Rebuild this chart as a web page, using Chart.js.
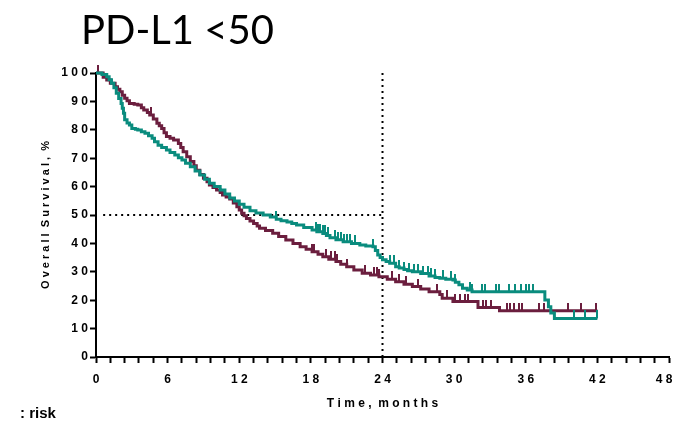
<!DOCTYPE html>
<html><head><meta charset="utf-8">
<script src="https://cdn.jsdelivr.net/npm/chart.js@4"></script>
<style>
html,body{margin:0;padding:0;background:#fff;}
#wrap{position:relative;width:675px;height:422px;overflow:hidden;}
canvas{position:absolute;left:0;top:0;}
#title{position:absolute;left:81px;top:9px;font-family:Lato,'Open Sans',sans-serif;font-size:40px;line-height:40px;color:#000;white-space:pre;}
#risk{position:absolute;left:20px;top:405px;font-family:'Liberation Sans',Arial,sans-serif;font-weight:bold;font-size:15px;line-height:15px;color:#000;}
</style></head><body>
<div id="wrap"><canvas id="c" width="675" height="422"></canvas><div id="title">PD-L1 &lt;50</div><div id="risk">: risk</div></div>
<script>
// ---- data ----
const tealTimes = [0,0.5,0.9,1.1,1.3,1.5,1.7,1.9,2.1,2.2,2.3,2.4,2.6,2.8,3.0,3.3,3.5,3.8,4.1,4.4,4.7,4.9,5.2,5.5,5.9,6.2,6.6,6.9,7.2,7.5,7.9,8.3,8.7,9.1,9.5,9.9,10.4,10.8,11.2,11.6,12.0,12.4,12.9,13.4,14.0,14.6,15.1,15.5,16.0,16.4,16.8,17.4,18.1,18.5,19.0,19.3,19.6,20.1,20.7,21.4,22.1,22.6,23.2,23.4,23.6,23.8,24.0,24.3,24.6,25.1,25.4,25.8,26.1,26.5,27.2,27.9,28.4,28.8,29.3,29.9,30.1,30.4,30.7,31.1,31.5,37.6,37.9,38.1,38.4,42.0];
const tealSurv  = [100,99.5,98.7,97.6,96.4,94.8,92.9,91.0,89.3,87.6,85.8,83.5,82.4,81.7,80.5,80.2,79.9,79.3,78.8,77.9,77.0,75.8,74.6,73.8,72.9,72.0,71.1,70.2,69.4,68.2,67.0,65.5,64.1,62.6,61.2,60.0,58.8,57.4,56.0,54.9,53.8,52.7,51.5,50.7,50.0,49.3,48.5,48.0,47.5,47.0,46.5,45.6,44.7,44.1,43.5,42.8,42.0,41.3,40.6,40.0,39.4,39.1,38.8,37.5,35.9,35.0,34.2,33.6,33.0,31.8,31.3,30.8,30.4,30.0,29.4,28.5,28.0,27.7,27.4,27.1,26.3,25.4,24.2,23.6,23.0,20.1,17.7,15.5,13.6,13.6];
const tealCensor = [15.1,18.4,18.6,18.8,19.0,19.2,19.4,20.0,20.3,20.5,20.8,21.0,21.3,21.7,23.2,24.6,25.0,25.4,25.8,26.2,26.6,27.0,27.4,27.8,28.1,28.4,29.1,29.7,30.1,31.3,31.5,32.3,32.6,33.5,33.8,34.6,35.1,35.6,36.0,36.3,36.6,40.0,41.0,42.0];

const maroonTimes = [0,0.6,0.9,1.2,1.6,1.8,2.0,2.2,2.4,2.6,2.8,3.2,3.5,3.8,4.0,4.3,4.5,4.8,5.1,5.3,5.5,5.7,5.9,6.2,6.5,6.9,7.1,7.3,7.6,7.9,8.2,8.4,8.7,9.0,9.3,9.5,9.8,10.1,10.4,10.6,10.9,11.2,11.5,11.8,12.0,12.2,12.4,12.6,12.9,13.2,13.5,13.7,14.2,14.8,15.3,15.9,16.5,17.1,17.6,18.1,18.6,19.0,19.5,20.1,20.5,21.0,21.6,22.3,23.0,23.7,24.4,25.1,25.8,26.5,27.2,27.9,28.8,29.0,29.9,32.0,33.8,42.0];
const maroonSurv  = [100,98.5,97.5,96.4,95.2,94.3,93.4,92.2,91.1,90.2,89.3,89.0,88.7,87.8,87.0,86.1,85.2,83.8,82.3,81.4,80.5,79.0,77.6,77.0,76.4,75.2,73.8,72.3,70.5,68.8,67.3,65.8,64.3,62.9,61.7,60.6,59.7,58.8,57.9,57.0,56.3,55.6,54.2,52.9,51.8,50.6,49.7,48.8,47.9,47.0,46.1,45.3,44.5,43.6,42.4,41.2,40.0,38.8,37.9,37.1,36.2,35.3,34.4,33.6,32.7,31.8,30.6,29.5,28.9,28.3,27.4,26.5,25.6,24.8,23.9,23.0,22.0,20.7,19.5,17.4,16.3,16.3];
const maroonCensor = [0.2,4.6,18.1,18.3,19.3,19.7,20.0,20.2,21.0,22.5,23.3,23.5,23.7,24.8,25.4,26.0,27.0,28.6,29.4,30.1,30.5,30.9,31.2,32.4,32.7,33.1,34.4,34.7,35.0,35.4,35.7,37.1,37.5,39.5,40.6,41.9];

const xTickValues = [0,6,12,18,24,30,36,42,48];
const yTickValues = [0,10,20,30,40,50,60,70,80,90,100];
const landmarkTime = 24;
const landmarkSurv = 50;

const TEAL = '#0a8c7e';
const MAROON = '#6b1e3e';

function curve(times, surv){ return times.map((t,i)=>({x:t,y:surv[i]})); }
function survAt(times, surv, t){ let s = surv[0]; for(let i=0;i<times.length;i++){ if(times[i]<=t) s=surv[i]; } return s; }
function censorPts(cens, times, surv){ return cens.map(t=>({x:t,y:survAt(times,surv,t)})); }
function tickMark(color){ const c=document.createElement('canvas'); c.width=2; c.height=16; const g=c.getContext('2d'); g.fillStyle=color; g.fillRect(0,0,2,8); return c; }
function spaced(v){ return String(v).split('').join(' '); }
const isMajor = v => xTickValues.some(m => Math.abs(m - v) < 1e-6);
const lastX = xTickValues[xTickValues.length-1];

const tickFont = {family:"'Liberation Sans', Arial, sans-serif", size:12, weight:'bold'};

new Chart(document.getElementById('c'), {
  type:'line',
  data:{datasets:[
    {data:curve(tealTimes,tealSurv), borderColor:TEAL, borderWidth:3, stepped:true, pointRadius:0, fill:false, clip:false},
    {type:'scatter', data:censorPts(tealCensor,tealTimes,tealSurv), pointStyle:tickMark(TEAL), pointRadius:5, clip:false, showLine:false},
    {data:curve(maroonTimes,maroonSurv), borderColor:MAROON, borderWidth:3, stepped:true, pointRadius:0, fill:false, clip:false},
    {type:'scatter', data:censorPts(maroonCensor,maroonTimes,maroonSurv), pointStyle:tickMark(MAROON), pointRadius:5, clip:false, showLine:false},
    {data:[{x:0.6,y:landmarkSurv},{x:landmarkTime,y:landmarkSurv}], borderColor:'#000', borderWidth:2, borderDash:[2,4], pointRadius:0, clip:false},
    {data:[{x:landmarkTime,y:0},{x:landmarkTime,y:101}], borderColor:'#000', borderWidth:2, borderDash:[2,4], pointRadius:0, clip:false}
  ]},
  options:{
    responsive:false, animation:false, devicePixelRatio:1,
    layout:{padding:{top:73,right:5,left:0,bottom:0}},
    plugins:{legend:{display:false}, tooltip:{enabled:false}},
    scales:{
      x:{type:'linear', min:0, max:48,
        border:{color:'#000', width:2},
        grid:{drawOnChartArea:false, drawTicks:true, tickLength:6, tickWidth:2, tickColor:'#000'},
        ticks:{stepSize:1.2, autoSkip:false, maxRotation:0, padding:9, color:'#000', font:tickFont,
          callback:(v)=> isMajor(v) ? (Math.abs(v-lastX)<1e-6 ? spaced(Math.round(v)) + '\u00a0\u00a0\u00a0' : spaced(Math.round(v))) : ''},
        title:{display:true, text:'T i m e ,  m o n t h s', color:'#000', font:{family:"'Liberation Sans', Arial, sans-serif", size:12, weight:'bold'}, padding:{top:0,bottom:11}},
        afterFit:(s)=>{ s.height = 65; s.paddingLeft = 0; s.paddingRight = 0; }
      },
      y:{type:'linear', min:0, max:100,
        border:{color:'#000', width:2},
        grid:{drawOnChartArea:false, drawTicks:true, tickLength:6, tickWidth:2, tickColor:'#000'},
        afterBuildTicks:(s)=>{ s.ticks = yTickValues.map(v=>({value:v})); },
        ticks:{padding:2, color:'#000', font:tickFont, callback:(v)=>spaced(v)},
        title:{display:true, text:'O v e r a l l  S u r v i v a l ,  %', color:'#000', font:{family:"'Liberation Sans', Arial, sans-serif", size:11, weight:'bold'}, padding:{top:39,bottom:0}},
        afterFit:(s)=>{ s.width = 96; s.paddingTop = 0; s.paddingBottom = 0; }
      }
    }
  }
});
</script>
</body></html>
